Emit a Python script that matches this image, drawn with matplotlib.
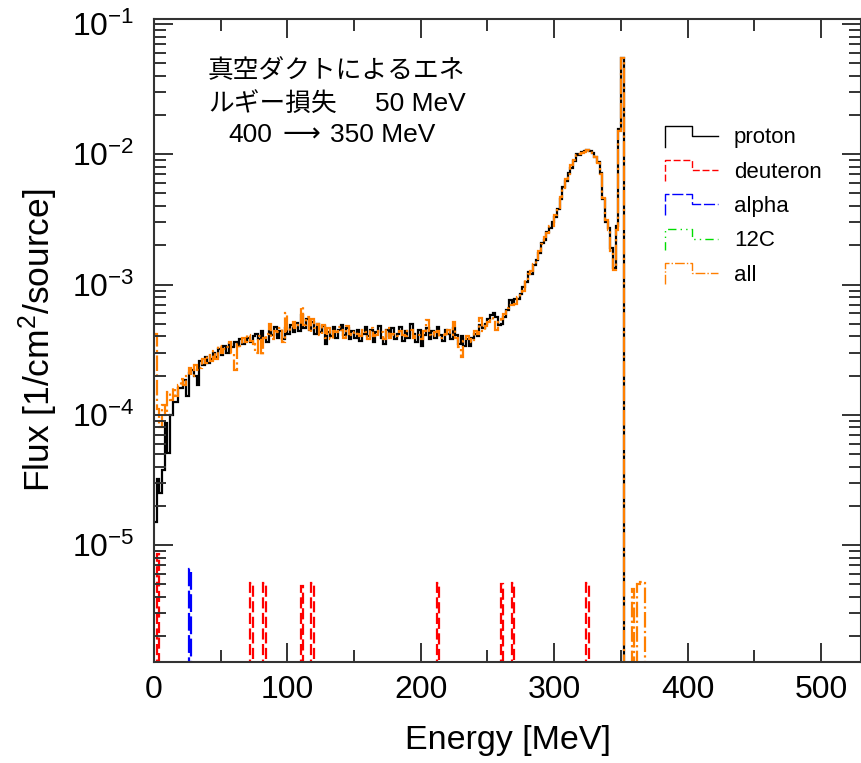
import matplotlib
matplotlib.use("Agg")
import matplotlib.pyplot as plt
import numpy as np
from matplotlib.legend_handler import HandlerBase
from matplotlib.lines import Line2D
from matplotlib.patches import StepPatch
from matplotlib.ticker import MultipleLocator, LogLocator, NullFormatter

plt.rcParams['font.family'] = ['Liberation Sans', 'DejaVu Sans']
plt.rcParams['mathtext.fontset'] = 'custom'
plt.rcParams['mathtext.rm'] = 'Liberation Sans'
plt.rcParams['mathtext.it'] = 'Liberation Sans:italic'
plt.rcParams['mathtext.bf'] = 'Liberation Sans:bold'

# === Histogram data (2 MeV bins) ===
BIN_W = 2
E_MAX = 530
FLUX_UNIT = 1e-4

# proton flux per bin from 0 MeV, in units of 1e-4 /cm2/source
proton = [
    0.15, 0.32, 0.25, 0.38, 0.87, 0.51, 1.0, 1.25, 1.25, 1.6,
    1.6, 1.85, 1.4, 2.1, 2.2, 2.0, 1.7, 2.6, 2.4, 2.8,
    2.5, 2.7, 3.0, 2.8, 3.2, 2.9, 3.4, 3.0, 3.5, 3.3,
    3.6, 3.4, 3.8, 3.5, 3.7, 3.9, 3.6, 4.0, 4.2, 3.8,
    4.4, 3.9, 3.6, 4.4, 4.1, 4.7, 3.9, 4.4, 3.8, 4.6,
    4.2, 4.9, 4.3, 5.1, 4.4, 5.8, 4.6, 5.4, 4.5, 5.2,
    4.2, 5.0, 4.3, 4.8, 3.5, 4.3, 4.0, 4.7, 3.9, 4.5,
    4.9, 4.1, 4.6, 3.8, 4.4, 3.9, 4.5, 3.7, 4.2, 4.7,
    4.0, 4.5, 3.6, 4.3, 4.8, 3.9, 3.5, 4.5, 4.0, 4.6,
    3.8, 4.2, 4.7, 3.7, 4.4, 3.9, 5.0, 4.2, 3.6, 4.5,
    3.4, 4.1, 4.6, 3.8, 4.4, 3.9, 4.7, 4.1, 3.7, 4.5,
    4.2, 3.8, 4.6, 4.1, 3.5, 4.0, 3.4, 3.8, 3.4, 3.9,
    4.2, 4.0, 4.9, 4.6, 5.0, 5.4, 5.8, 6.0, 5.6, 4.9,
    5.0, 5.6, 6.4, 7.6, 7.2, 7.8, 7.8, 8.4, 9.6, 10.5,
    12.5, 12.0, 14.0, 15.5, 17.5, 21, 22, 25.5, 27, 30,
    33, 38, 45, 56, 62, 72, 79, 88, 100, 98,
    104, 105, 108, 106, 102, 95, 87, 72, 45, 30,
    27, 19, 13.5, 28, 155, 550,
]

# sum over all particles, same bins and units
all_particles = [
    4.2, 1.1, 0.8, 1.2, 1.0, 1.5, 1.3, 1.6, 1.4, 1.7,
    1.9, 1.7, 2.0, 2.3, 2.0, 2.4, 2.2, 2.3, 2.7, 2.5,
    2.9, 2.6, 3.1, 2.7, 3.4, 3.0, 3.2, 3.3, 3.6, 3.0,
    2.2, 3.5, 3.4, 3.9, 3.6, 4.1, 3.7, 3.5, 3.0, 4.0,
    2.9, 3.9, 4.2, 5.0, 3.8, 4.4, 4.3, 4.6, 3.6, 6.0,
    4.4, 4.6, 5.2, 4.6, 4.9, 6.7, 4.9, 5.6, 4.3, 5.4,
    4.6, 5.0, 4.1, 4.9, 3.9, 4.6, 3.8, 4.4, 4.3, 4.7,
    4.5, 3.9, 4.8, 4.2, 4.1, 4.3, 4.2, 4.0, 4.5, 4.3,
    3.8, 4.6, 4.0, 4.1, 4.4, 4.3, 3.8, 4.6, 3.9, 4.2,
    4.1, 4.0, 4.4, 4.1, 4.0, 4.4, 4.5, 3.9, 4.0, 4.1,
    3.8, 4.4, 5.3, 4.1, 4.0, 4.3, 4.4, 3.9, 4.1, 4.2,
    4.5, 4.1, 5.2, 3.9, 3.3, 2.8, 3.7, 4.0, 3.8, 3.6,
    4.4, 4.2, 5.5, 4.4, 4.8, 5.2, 5.5, 5.3, 4.5, 5.2,
    5.4, 5.9, 6.6, 7.0, 7.0, 7.1, 8.0, 8.6, 9.0, 10.8,
    12.0, 12.8, 14.5, 15.5, 18.0, 20.5, 23, 25, 28, 28,
    34, 39, 47, 55, 64, 70, 82, 90, 98, 100,
    102, 104, 107, 105, 103, 96, 86, 70, 46, 31,
    26, 18, 13, 26, 150, 550,
]

# sparse low-flux bins: lower bin edge [MeV] and flux [1/cm2/source]
deuteron_E = [2, 72, 82, 110, 118, 212, 260, 268, 324]
deuteron_flux = [8.5e-6, 5.1e-6, 5.1e-6, 4.9e-6, 5.1e-6, 5.1e-6, 5.0e-6, 5.1e-6, 5.1e-6]
alpha_E = [26]
alpha_flux = [6.6e-6]
c12_E = []
c12_flux = []
all_tail_E = [358, 362, 364, 366]
all_tail_flux = [4.6e-6, 5.0e-6, 5.2e-6, 5.1e-6]

edges = np.arange(0, E_MAX + BIN_W, BIN_W)
n_bins = len(edges) - 1


def dense(values, scale=1.0):
    h = np.zeros(n_bins)
    h[:len(values)] = np.array(values) * scale
    return h


def sparse(e_low, flux):
    h = np.zeros(n_bins)
    for e, f in zip(e_low, flux):
        h[int(e // BIN_W)] = f
    return h


h_proton = dense(proton, FLUX_UNIT)
h_all = dense(all_particles, FLUX_UNIT) + sparse(all_tail_E, all_tail_flux)
h_deut = sparse(deuteron_E, deuteron_flux)
h_alpha = sparse(alpha_E, alpha_flux)
h_c12 = sparse(c12_E, c12_flux)


class StepHandler(HandlerBase):
    # legend key drawn as a small histogram step
    def create_artists(self, legend, orig, xdescent, ydescent, width, height, fontsize, trans):
        x0 = -xdescent
        x1 = x0 + width
        xm = x0 + 0.5 * width
        yc = -ydescent + 0.5 * height
        top = yc + 0.45 * fontsize
        bot = yc - 0.5 * fontsize
        line = Line2D([x0, x0, xm, xm, x1], [bot, top, top, yc, yc],
                      color=orig.get_edgecolor(), linestyle=orig.get_linestyle(),
                      linewidth=1.0, transform=trans)
        return [line]


W, H = 861, 763
fig = plt.figure(figsize=(W / 100, H / 100), dpi=100)
ax = fig.add_axes([154 / W, 101 / H, 707 / W, 643 / H])
ax.set_yscale('log', nonpositive='clip')

lw = 1.6
ax.stairs(h_proton, edges, baseline=None, color='black', lw=lw, label='proton')
ax.stairs(h_deut, edges, baseline=None, color='#ff0000', lw=lw, linestyle=(0, (5, 2)), label='deuteron')
ax.stairs(h_alpha, edges, baseline=None, color='#0000ff', lw=lw, linestyle=(0, (8, 2)), label='alpha')
ax.stairs(h_c12, edges, baseline=None, color='#00dd00', lw=lw, linestyle=(0, (6, 3, 1, 3, 1, 3)), label='12C')
ax.stairs(h_all, edges, baseline=None, color='#ff7f00', lw=lw, linestyle=(0, (7, 1.5, 1, 1.5)), label='all')

ax.set_xlim(0, E_MAX)
ax.set_ylim(1.27e-6, 0.109)

ax.xaxis.set_major_locator(MultipleLocator(100))
ax.xaxis.set_minor_locator(MultipleLocator(50))
ax.yaxis.set_major_locator(LogLocator(base=10))
ax.yaxis.set_minor_locator(LogLocator(base=10, subs=np.arange(2, 10)))
ax.yaxis.set_minor_formatter(NullFormatter())

ax.tick_params(which='both', direction='in', top=True, right=True, width=1.4, color='#333333')
ax.tick_params(which='major', length=14, labelsize=23)
ax.tick_params(which='minor', length=8.5)
ax.tick_params(axis='y', which='major', pad=14)
ax.tick_params(axis='x', which='major', pad=9)
for sp in ax.spines.values():
    sp.set_linewidth(1.5)
    sp.set_color('#333333')

ax.set_xlabel('Energy [MeV]', fontsize=24.5)
ax.set_ylabel('Flux [1/cm$^2$/source]', fontsize=25.5)
ax.xaxis.set_label_coords(0.5, -0.098)
ax.yaxis.set_label_coords(-0.133, 0.5)

# note in the upper left: Japanese in a CJK face, numbers in the sans face
jp = dict(transform=fig.transFigure, va='baseline', ha='left', fontsize=18.5,
          family=['Noto Sans CJK JP', 'DejaVu Sans'])
lat = dict(transform=fig.transFigure, va='baseline', ha='left', fontsize=19,
           family=['Liberation Sans', 'DejaVu Sans'])
fig.text(208 / W, 1 - 78 / H, '真空ダクトによるエネ', **jp)
fig.text(208 / W, 1 - 111 / H, 'ルギー損失', **jp)
fig.text(375 / W, 1 - 111 / H, '50 MeV', **lat)
fig.text(228 / W, 1 - 142 / H, '400', **lat)
fig.text(283 / W, 1 - 142 / H, '\u27f6', transform=fig.transFigure, va='baseline', ha='left',
         fontsize=19, family=['DejaVu Sans'])
fig.text(330 / W, 1 - 142 / H, '350 MeV', **lat)

ax.legend(loc='upper left', bbox_to_anchor=(665 / W, 0.833), bbox_transform=fig.transFigure,
          frameon=False, fontsize=16, handlelength=2.4, handletextpad=0.7, labelspacing=0.6,
          borderpad=0, borderaxespad=0, handler_map={StepPatch: StepHandler()})

fig.savefig('out.png', dpi=100)
